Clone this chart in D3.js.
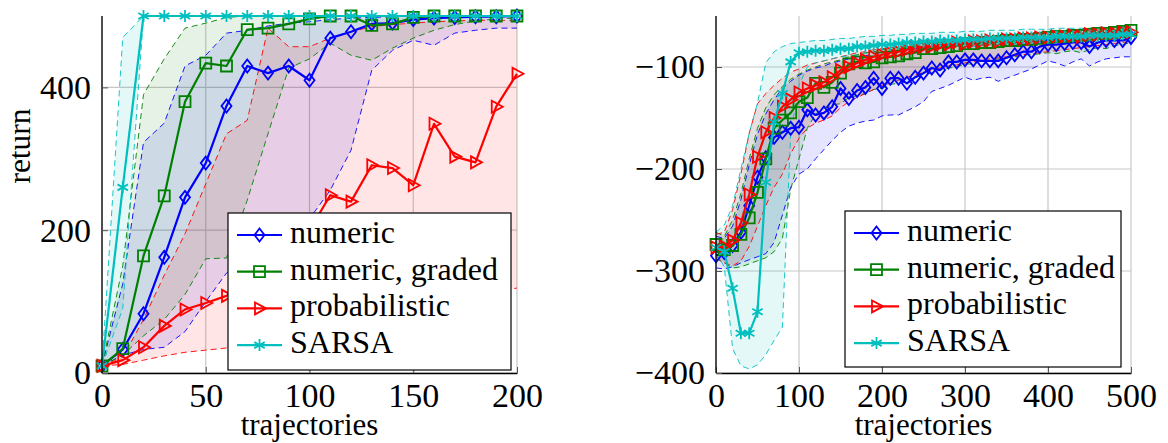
<!DOCTYPE html>
<html>
<head>
<meta charset="utf-8">
<script src="https://cdn.jsdelivr.net/npm/d3@7"></script>
<style>
  body { margin: 0; background: #fff; }
  svg text { font-family: "Liberation Serif", "DejaVu Serif", serif !important; fill: #000; }
</style>
</head>
<body>
<svg id="chart" width="1168" height="443"></svg>
<script>
// ---- left panel: return vs trajectories (0..200) ----
const leftX = [0,10,20,30,40,50,60,70,80,90,100,110,120,130,140,150,160,170,180,190,200];

const lNumeric   = [10,33,83,162,246,294,374,430,420,430,410,469,478,489,490,495,497,498,499,499,500];
const lNumericLo = [10,25,33,36,58,100,140,160,180,198,216,256,312,424,452,466,459,476,480,483,483];
const lNumericHi = [10,125,323,350,430,445,476,480,486,490,492,495,497,498,499,500,500,500,500,500,500];

const lGraded   = [10,34,164,248,380,434,430,481,483,489,496,500,500,487,489,498,500,500,500,500,500];
const lGradedLo = [10,25,52,75,110,160,161,242,335,427,440,462,445,438,455,469,480,488,493,496,497];
const lGradedHi = [10,150,390,440,483,490,498,500,500,500,500,500,500,500,500,500,500,500,500,500,500];

const lProb   = [10,18,36,66,89,98,108,125,150,175,200,249,240,291,287,263,349,303,295,373,419];
const lProbLo = [10,12,18,24,29,32,35,40,45,50,55,60,68,75,82,88,95,100,108,114,119];
const lProbHi = [10,22,75,137,195,265,335,354,483,457,457,469,478,485,488,490,492,493,494,494,494];

const lSarsa   = [10,260,500,500,500,500,500,500,500,500,500,500,500,500,500,500,500,500,500,500,500];
const lSarsaLo = [10,90,500,500,500,500,500,500,500,500,500,500,500,500,500,500,500,500,500,500,500];
const lSarsaHi = [10,470,500,500,500,500,500,500,500,500,500,500,500,500,500,500,500,500,500,500,500];

const leftXTicks = [0,50,100,150,200];
const leftYTicks = [0,200,400];

// ---- right panel: trajectories 0..500 ----
const rightX = [0,10,20,30,40,50,60,70,80,90,100,110,120,130,140,150,160,170,180,190,200,
  210,220,230,240,250,260,270,280,290,300,310,320,330,340,350,360,370,380,390,400,
  410,420,430,440,450,460,470,480,490,500];

const rNumeric = [-285,-282,-275,-262,-236,-208,-189,-169,-164,-160,
  -159,-142,-147,-145,-139,-121,-131,-123,-120,-111,
  -121,-111,-111,-116,-110,-106,-101,-103,-95,-95,
  -93,-93,-94,-94,-94,-91,-88,-85,-85,-80,
  -78,-78,-77,-76,-76,-80,-76,-74,-74,-74,-71];
const rNumericLo = [-297,-298,-296,-292,-289,-286,-283,-272,-245,-218,
  -205,-200,-190,-181,-172,-164,-158,-155,-153,-152,
  -148,-147,-147,-143,-139,-134,-124,-121,-118,-114,
  -110,-113,-111,-110,-114,-111,-108,-105,-102,-98,
  -94,-96,-99,-95,-92,-99,-95,-92,-91,-90,-90];
const rNumericHi = [-266,-268,-256,-230,-196,-166,-146,-132,-121,-114,
  -108,-104,-101,-99,-96,-94,-92,-90,-89,-87,
  -86,-85,-84,-83,-82,-81,-80,-79,-79,-78,
  -77,-77,-76,-75,-75,-74,-73,-72,-72,-71,
  -70,-70,-69,-69,-68,-67,-67,-66,-66,-65,-64];

const rGraded = [-274,-279,-275,-264,-248,-223,-190,-160,-152,-145,
  -134,-130,-116,-120,-115,-106,-97,-95,-96,-95,
  -91,-90,-89,-87,-86,-82,-82,-81,-80,-79,
  -77,-77,-76,-76,-75,-74,-74,-73,-73,-72,
  -71,-70,-70,-69,-69,-68,-67,-67,-66,-65,-64];
const rGradedLo = [-288,-292,-297,-296,-293,-290,-287,-281,-268,-220,
  -190,-160,-146,-141,-137,-136,-130,-128,-126,-122,
  -121,-117,-116,-112,-111,-107,-106,-103,-101,-100,
  -97,-97,-94,-94,-92,-91,-90,-88,-88,-87,
  -86,-87,-85,-84,-86,-83,-81,-82,-79,-78,-76];
const rGradedHi = [-262,-266,-250,-224,-190,-160,-140,-127,-119,-112,
  -107,-103,-100,-97,-95,-93,-90,-88,-86,-85,
  -83,-82,-81,-80,-79,-78,-77,-76,-75,-74,
  -73,-73,-72,-71,-70,-70,-69,-68,-68,-67,
  -66,-66,-65,-64,-64,-63,-62,-62,-61,-61,-60];

const rProb = [-277,-276,-270,-253,-225,-188,-164,-150,-139,-132,
  -125,-121,-118,-115,-110,-103,-100,-96,-93,-90,
  -88,-86,-85,-83,-81,-80,-80,-78,-78,-76,
  -77,-75,-75,-74,-75,-73,-73,-72,-72,-71,
  -71,-70,-70,-69,-70,-68,-68,-67,-67,-66,-66];
const rProbLo = [-286,-292,-295,-290,-276,-256,-236,-218,-205,-185,
  -170,-160,-155,-152,-148,-140,-134,-130,-126,-122,
  -118,-116,-113,-110,-108,-105,-103,-101,-99,-98,
  -96,-95,-93,-92,-91,-90,-89,-88,-87,-86,
  -85,-84,-83,-82,-81,-80,-79,-78,-77,-76,-74];
const rProbHi = [-264,-262,-240,-205,-165,-136,-126,-118,-111,-105,
  -102,-98,-96,-94,-92,-90,-88,-86,-85,-83,
  -82,-81,-80,-79,-78,-77,-76,-75,-74,-74,
  -73,-72,-71,-71,-70,-69,-69,-68,-67,-67,
  -66,-66,-65,-64,-64,-63,-63,-62,-62,-61,-60];

const rSarsa = [-277,-281,-317,-361,-361,-340,-213,-154,-126,-95,
  -86,-85,-84,-84,-83,-82,-82,-80,-80,-79,
  -78,-78,-77,-76,-76,-75,-75,-74,-74,-74,
  -73,-73,-73,-72,-72,-72,-72,-71,-71,-71,
  -71,-70,-70,-70,-70,-69,-69,-69,-69,-68,-68];
const rSarsaLo = [-282,-296,-376,-393,-396,-392,-382,-368,-355,-165,
  -118,-100,-96,-94,-92,-90,-89,-88,-87,-86,
  -85,-85,-84,-83,-83,-82,-82,-81,-81,-80,
  -80,-80,-79,-79,-78,-78,-78,-77,-77,-77,
  -76,-76,-76,-75,-75,-75,-75,-74,-74,-74,-74];
const rSarsaHi = [-262,-255,-236,-200,-165,-135,-96,-85,-80,-77,
  -76,-75,-74,-74,-73,-72,-72,-71,-70,-70,
  -69,-69,-68,-68,-67,-67,-67,-66,-66,-66,
  -65,-65,-65,-64,-64,-64,-64,-63,-63,-63,
  -63,-62,-62,-62,-62,-62,-61,-61,-61,-61,-61];

const rightXTicks = [0,100,200,300,400,500];
const rightYTicks = [-400,-300,-200,-100];

const seriesNames = ["numeric", "numeric, graded", "probabilistic", "SARSA"];
const seriesColors = ["#0000ff", "#008000", "#ff0000", "#00bfbf"];

// marker shapes, centred on (0,0)
const markers = [
  "M0,-6.5L5,0L0,6.5L-5,0Z",
  "M-5.5,-5.5H5.5V5.5H-5.5Z",
  "M6.5,0L-4.5,-6L-4.5,6Z",
  "M0,-6V6M-5.2,-3L5.2,3M-5.2,3L5.2,-3"
];

const SERIF = '"Liberation Serif", "DejaVu Serif", serif';
const svg = d3.select("#chart");

function drawPanel(p) {
  const g = svg.append("g");
  const x = d3.scaleLinear().domain(p.xDomain).range([p.x0, p.x1]);
  const y = d3.scaleLinear().domain(p.yDomain).range([373, 16]);

  // grid
  g.append("g").selectAll("line").data(p.xTicks).join("line")
    .attr("x1", d => x(d)).attr("x2", d => x(d))
    .attr("y1", y.range()[0]).attr("y2", y.range()[1])
    .attr("stroke", "#c8c8c8").attr("stroke-width", 1.2);
  g.append("g").selectAll("line").data(p.yTicks).join("line")
    .attr("x1", p.x0).attr("x2", p.x1)
    .attr("y1", d => y(d)).attr("y2", d => y(d))
    .attr("stroke", "#c8c8c8").attr("stroke-width", 1.2);

  const series = p.series.map((s, i) => ({
    color: seriesColors[i], marker: markers[i],
    pts: p.xs.map((xv, j) => ({ x: xv, m: s.mean[j], lo: s.lo[j], hi: s.hi[j] }))
  }));

  const area = d3.area().x(d => x(d.x)).y0(d => y(d.lo)).y1(d => y(d.hi));
  const lineLo = d3.line().x(d => x(d.x)).y(d => y(d.lo));
  const lineHi = d3.line().x(d => x(d.x)).y(d => y(d.hi));
  const lineM = d3.line().x(d => x(d.x)).y(d => y(d.m));

  series.forEach(s => {
    g.append("path").attr("d", area(s.pts))
      .attr("fill", s.color).attr("fill-opacity", 0.1).attr("stroke", "none");
  });
  series.forEach(s => {
    [lineLo, lineHi].forEach(l => {
      g.append("path").attr("d", l(s.pts))
        .attr("fill", "none").attr("stroke", s.color)
        .attr("stroke-width", 0.9).attr("stroke-dasharray", "6,4");
    });
  });
  series.forEach(s => {
    g.append("path").attr("d", lineM(s.pts))
      .attr("fill", "none").attr("stroke", s.color).attr("stroke-width", 2.2)
      .attr("stroke-linejoin", "round");
    g.append("g").selectAll("path").data(s.pts).join("path")
      .attr("d", s.marker)
      .attr("transform", d => `translate(${x(d.x)},${y(d.m)})`)
      .attr("fill", "none").attr("stroke", s.color).attr("stroke-width", 1.8);
  });

  // axes
  const xAxis = g.append("g").attr("transform", "translate(0,373)")
    .call(d3.axisBottom(x).tickValues(p.xTicks).tickSize(-6).tickSizeOuter(0).tickPadding(10)
      .tickFormat(d3.format("d")));
  const yAxis = g.append("g").attr("transform", `translate(${p.x0},0)`)
    .call(d3.axisLeft(y).tickValues(p.yTicks).tickSize(-6).tickSizeOuter(0).tickPadding(11)
      .tickFormat(d3.format("d")));
  [xAxis, yAxis].forEach(a => {
    a.attr("font-family", SERIF).attr("font-size", 34);
    a.select(".domain").attr("stroke", "#000").attr("stroke-width", 1.3);
    a.selectAll(".tick line").attr("stroke", "#555").attr("stroke-width", 1);
    a.selectAll(".tick text").style("font-family", SERIF).style("font-size", "34px");
  });
  // y axis line reaches the top of the plot
  yAxis.select(".domain").attr("d", `M0,${y.range()[0]}V${y.range()[1]}`);

  g.append("text").attr("x", (p.x0 + p.x1) / 2).attr("y", 435)
    .attr("text-anchor", "middle").style("font-family", SERIF).style("font-size", "31px")
    .text("trajectories");
  if (p.yLabel) {
    g.append("text").attr("transform", "translate(30,146) rotate(-90)")
      .attr("text-anchor", "middle").style("font-family", SERIF).style("font-size", "31.5px")
      .text(p.yLabel);
  }

  // legend
  const L = p.legend;
  const lg = g.append("g").attr("transform", `translate(${L.x},${L.y})`);
  lg.append("rect").attr("width", L.w).attr("height", L.h)
    .attr("fill", "#fff").attr("stroke", "#000").attr("stroke-width", 1.2);
  seriesNames.forEach((name, i) => {
    const ry = 22 + i * 36.7;
    lg.append("line").attr("x1", 9).attr("x2", 54).attr("y1", ry).attr("y2", ry)
      .attr("stroke", seriesColors[i]).attr("stroke-width", 2.2);
    lg.append("path").attr("d", markers[i]).attr("transform", `translate(31.5,${ry})`)
      .attr("fill", "none").attr("stroke", seriesColors[i]).attr("stroke-width", 1.8);
    lg.append("text").attr("x", 62).attr("y", ry + 8)
      .style("font-family", SERIF).style("font-size", "32px").text(name);
  });
}

drawPanel({
  x0: 102, x1: 517, xDomain: [0, 200], yDomain: [0, 500],
  xTicks: leftXTicks, yTicks: leftYTicks, xs: leftX, yLabel: "return",
  series: [
    { mean: lNumeric, lo: lNumericLo, hi: lNumericHi },
    { mean: lGraded, lo: lGradedLo, hi: lGradedHi },
    { mean: lProb, lo: lProbLo, hi: lProbHi },
    { mean: lSarsa, lo: lSarsaLo, hi: lSarsaHi }
  ],
  legend: { x: 228, y: 213, w: 283, h: 157 }
});

drawPanel({
  x0: 716, x1: 1131, xDomain: [0, 500], yDomain: [-400, -50],
  xTicks: rightXTicks, yTicks: rightYTicks, xs: rightX, yLabel: null,
  series: [
    { mean: rNumeric, lo: rNumericLo, hi: rNumericHi },
    { mean: rGraded, lo: rGradedLo, hi: rGradedHi },
    { mean: rProb, lo: rProbLo, hi: rProbHi },
    { mean: rSarsa, lo: rSarsaLo, hi: rSarsaHi }
  ],
  legend: { x: 845, y: 211, w: 276, h: 156 }
});
</script>
</body>
</html>
